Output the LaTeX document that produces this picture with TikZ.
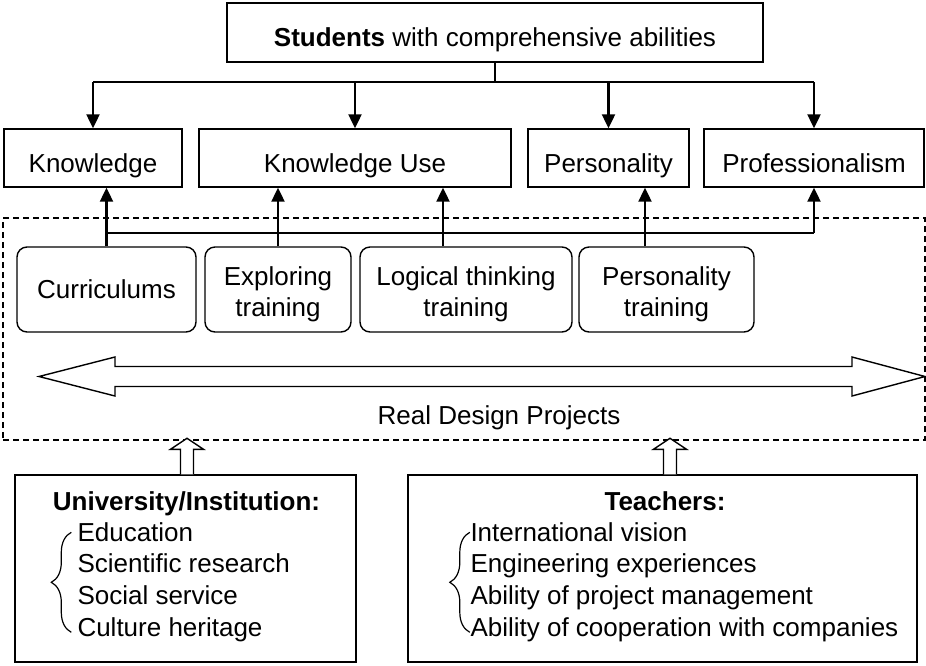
\documentclass[tikz,border=0pt]{standalone}
\usepackage{fontspec}
\setmainfont{Liberation Sans}
\usepackage{tikz}
\usetikzlibrary{arrows.meta, calc, decorations.pathreplacing}

\newcommand\tallstrut{\rule{0pt}{28pt}}

\tikzset{
    box/.style={draw, line width=1.4pt, inner sep=0pt, text height=28pt, text depth=0pt, minimum height=58pt},
    trainbox/.style={draw, line width=1.4pt, rounded corners=10pt, align=center, inner sep=0pt, minimum height=85pt},
    bigbox/.style={draw, line width=1.4pt, inner sep=0pt, minimum height=187pt},
    bus/.style={line width=2.2pt},
    hollow/.style={draw, line width=1.4pt, fill=white},
    curly/.style={line width=1.2pt, decorate, decoration={brace, amplitude=20pt}},
    txt/.style={inner sep=0pt}
}

\begin{document}
\begin{tikzpicture}[x=1pt, y=-1pt, >={Triangle[length=14pt, width=13pt]}, font=\fontsize{26}{31.5}\selectfont]
    \useasboundingbox (0,0) rectangle (926,665);

    % Khung trên cùng
    \node[box, minimum width=536pt, minimum height=59pt] (stud) at (495,32.5) {\textbf{Students} with comprehensive abilities};

    % Bốn năng lực
    \node[box, minimum width=178pt] (know) at (93,158) {Knowledge};
    \node[box, minimum width=312pt] (use) at (355,158) {Knowledge Use};
    \node[box, minimum width=161pt] (pers) at (608.5,158) {Personality};
    \node[box, minimum width=220pt] (prof) at (814,158) {Professionalism};

    % Đường nối xuống
    \coordinate (top) at (0,82);
    \draw[line width=1.4pt] (stud.south) -- (stud.south |- top);
    \draw[bus] (know.north |- top) -- (prof.north |- top);
    \foreach \n in {know, use, pers, prof}
        \draw[bus, ->] (\n.north |- top) -- (\n.north);

    % Khung nét đứt
    \node[draw, line width=1.2pt, dash pattern=on 6pt off 4pt, inner sep=0pt, minimum width=922pt, minimum height=222pt] (frame) at (464,329) {};

    % Các hình thức đào tạo
    \node[trainbox, minimum width=179pt] (curr) at (106.5,289.5) {Curriculums};
    \node[trainbox, minimum width=146pt] (expl) at (278,289.5) {\tallstrut Exploring\\training};
    \node[trainbox, minimum width=212pt] (logic) at (466,289.5) {\tallstrut Logical thinking\\training};
    \node[trainbox, minimum width=175pt] (ptrain) at (666.5,289.5) {\tallstrut Personality\\training};

    % Đường nối lên
    \coordinate (mid) at (0,233);
    \coordinate (logic-up) at ([xshift=-23pt]logic.north);
    \coordinate (ptrain-up) at ([xshift=-21.5pt]ptrain.north);
    \draw[bus] (curr.north |- mid) -- (prof.south |- mid);
    \foreach \a/\b in {curr.north/know, expl.north/use, logic-up/use, ptrain-up/pers}
        \draw[bus, ->] (\a) -- (\b.south -| \a);
    \draw[bus, ->] (prof.south |- mid) -- (prof.south);

    % Mũi tên hai chiều
    \draw[hollow] (39,376.5) -- (115,357) -- (115,366.5) -- (852,366.5) -- (852,357) -- (925,376.5)
        -- (852,396) -- (852,386.5) -- (115,386.5) -- (115,396) -- cycle;
    \node[txt, anchor=base] (rdp) at (499,424) {Real Design Projects};

    % Hai khung dưới
    \node[bigbox, minimum width=341pt] (univ) at (185.5,568.5) {};
    \node[bigbox, minimum width=509pt] (teach) at (662.5,568.5) {};

    % Mũi tên rỗng
    \coordinate (ua) at ([xshift=1.5pt]univ.north);
    \coordinate (ta) at ([xshift=7.5pt]teach.north);
    \foreach \s in {ua, ta}
        \draw[hollow] ($(\s)+(-6.5,0)$) -- ($(\s)+(-6.5,-25)$) -- ($(\s)+(-16.5,-25)$) -- ($(\s)+(0,-36)$)
            -- ($(\s)+(16.5,-25)$) -- ($(\s)+(6.5,-25)$) -- ($(\s)+(6.5,0)$);

    \node[txt, anchor=base] (univ-t) at ([xshift=1pt, yshift=-36pt]univ.north) {\textbf{University/Institution:}};
    \node[txt, anchor=base] (teach-t) at ([xshift=2.5pt, yshift=-36pt]teach.north) {\textbf{Teachers:}};

    \foreach \t [count=\i] in {Education, Scientific research, Social service, Culture heritage}
        \node[txt, anchor=base west] (univ-\i) at ([xshift=63pt, yshift={-(35+31.7*\i)*1pt}]univ.north west) {\t};
    \foreach \t [count=\i] in {International vision, Engineering experiences, Ability of project management, Ability of cooperation with companies}
        \node[txt, anchor=base west] (teach-\i) at ([xshift=63pt, yshift={-(35+31.7*\i)*1pt}]teach.north west) {\t};

    % Dấu ngoặc
    \draw[curly] ([xshift=57pt, yshift=-158pt]univ.north west) -- ([xshift=57pt, yshift=-58pt]univ.north west);
    \draw[curly] ([xshift=62.5pt, yshift=-158pt]teach.north west) -- ([xshift=62.5pt, yshift=-58pt]teach.north west);
\end{tikzpicture}
\end{document}
